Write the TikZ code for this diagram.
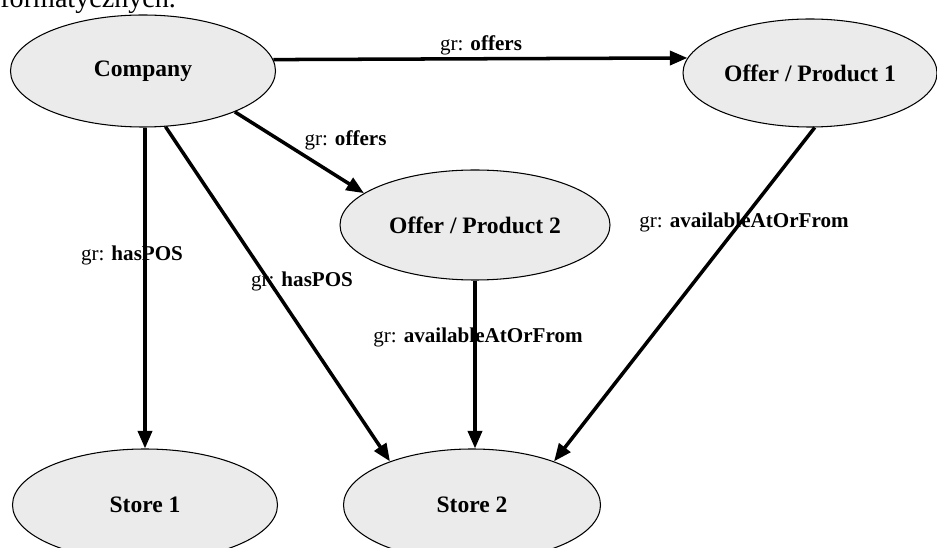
\documentclass[tikz,border=0pt]{standalone}
\usepackage{fontspec}
\setmainfont{Liberation Serif}
\usetikzlibrary{arrows.meta,shapes.geometric}

\begin{document}
\begin{tikzpicture}[>={Triangle[length=10pt,width=8pt]},
  cls/.style={ellipse,draw,line width=0.6pt,fill=black!8,inner sep=0pt,
    minimum height=2.24cm,font=\fontsize{13.4}{15}\selectfont\bfseries},
  rel/.style={->,line width=2pt},
  lbl/.style={inner sep=1pt,font=\fontsize{12}{14}\selectfont}]
\clip (0,0) rectangle (18.74,10.94);

\node[anchor=base west,inner sep=0pt,font=\fontsize{16}{18}\selectfont] (cap) at (0,10.78) {formatycznych.};

\node[cls,minimum width=5.3cm] (company) at (2.86,9.52) {Company};
\node[cls,minimum width=5.08cm,minimum height=2.16cm] (prod1) at (16.2,9.48) {Offer / Product 1};
\node[cls,minimum width=5.4cm,minimum height=2.2cm] (prod2) at (9.5,6.44) {Offer / Product 2};
\node[cls,minimum width=5.3cm] (store1) at (2.9,0.84) {Store 1};
\node[cls,minimum width=5.14cm] (store2) at (9.44,0.84) {Store 2};

\draw[rel] (company.5.8) -- (prod1.173);
\draw[rel] (company.-24) -- (prod2.164);
\draw[rel] (company.south -| store1) -- (store1.north);
\draw[rel] (company.-68) -- (store2.152);
\draw[rel] (prod2.south) -- (prod2.south |- store2.north);
\draw[rel] (prod1.-85) -- (store2.28);

\node[lbl] (l1) at (9.62,10.04) {gr: \textbf{offers}};
\node[lbl] (l2) at (6.91,8.14) {gr: \textbf{offers}};
\node[lbl] (l3) at (2.64,5.84) {gr: \textbf{hasPOS}};
\node[lbl] (l4) at (6.04,5.32) {gr: \textbf{hasPOS}};
\node[lbl] (l5) at (9.56,4.2) {gr: \textbf{availableAtOrFrom}};
\node[lbl] (l6) at (14.88,6.5) {gr: \textbf{availableAtOrFrom}};
\end{tikzpicture}
\end{document}
